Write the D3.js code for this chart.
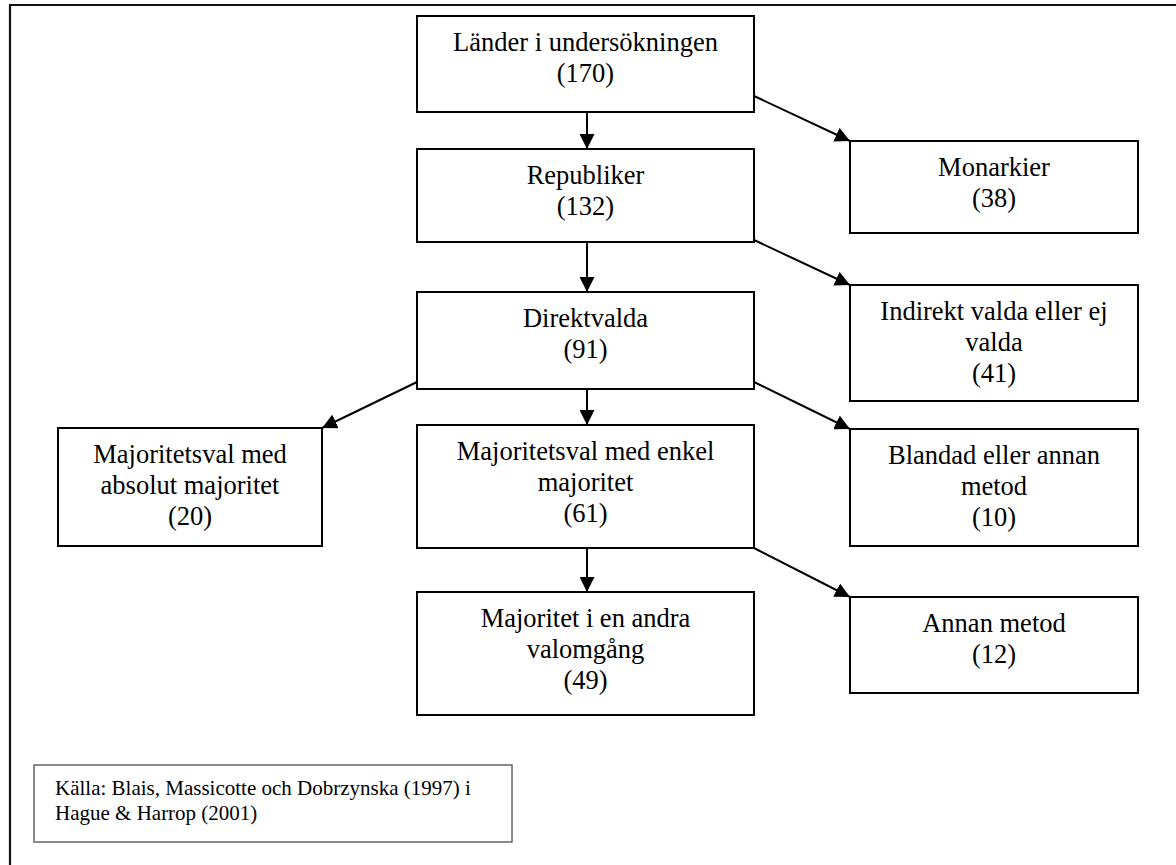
<!DOCTYPE html>
<html>
<head>
<meta charset="utf-8">
<script src="https://cdn.jsdelivr.net/npm/d3@7"></script>
<style>
  html, body { margin: 0; padding: 0; background: #fff; }
  svg { display: block; }
</style>
</head>
<body>
<script>
// ---------- DATA ----------
const nodeIds    = ["lander", "monarkier", "republiker", "indirekt", "direkt", "absolut", "enkel", "blandad", "andra", "annan"];
const nodeLabels = [
  ["Länder i undersökningen"],
  ["Monarkier"],
  ["Republiker"],
  ["Indirekt valda eller ej", "valda"],
  ["Direktvalda"],
  ["Majoritetsval med", "absolut majoritet"],
  ["Majoritetsval med enkel", "majoritet"],
  ["Blandad eller annan", "metod"],
  ["Majoritet i en andra", "valomgång"],
  ["Annan metod"]
];
const nodeCounts = [170, 38, 132, 41, 91, 20, 61, 10, 49, 12];
const edgeFrom   = ["lander", "lander", "republiker", "republiker", "direkt", "direkt", "direkt", "enkel", "enkel"];
const edgeTo     = ["republiker", "monarkier", "direkt", "indirekt", "absolut", "enkel", "blandad", "andra", "annan"];
const sourceLines = ["Källa: Blais, Massicotte och Dobrzynska (1997) i", "Hague & Harrop (2001)"];

// ---------- LAYOUT (positions & sizes, kept separate from data) ----------
const W = 1176, H = 865;
const FONT = "'Liberation Serif', 'Times New Roman', Times, 'DejaVu Serif', serif";
const colX = d3.scaleOrdinal().domain(["left", "center", "right"]).range([58, 417, 850]);
const colW = d3.scaleOrdinal().domain(["left", "center", "right"]).range([264, 337, 288]);
const nodeLayout = {
  lander:     { col: "center", top: 16,  bottom: 112 },
  monarkier:  { col: "right",  top: 141, bottom: 233 },
  republiker: { col: "center", top: 149, bottom: 242 },
  indirekt:   { col: "right",  top: 285, bottom: 401 },
  direkt:     { col: "center", top: 292, bottom: 389 },
  absolut:    { col: "left",   top: 428, bottom: 546 },
  enkel:      { col: "center", top: 425, bottom: 548 },
  blandad:    { col: "right",  top: 429, bottom: 546 },
  andra:      { col: "center", top: 592, bottom: 715 },
  annan:      { col: "right",  top: 597, bottom: 693 }
};
const edgeStartLift = { lander: 16, republiker: 2, direkt: 7, enkel: 0 };
const fontSize = 26.5, firstBase = 35, lineGap = 31;

const nodes = nodeIds.map((id, i) => {
  const L = nodeLayout[id];
  const x = colX(L.col), w = colW(L.col);
  return { id, lines: nodeLabels[i].concat(["(" + nodeCounts[i] + ")"]),
           x, y: L.top, w, h: L.bottom - L.top, cx: x + w / 2 + 1.5 };
});
const byId = new Map(nodes.map(n => [n.id, n]));

const svg = d3.select("body").append("svg").attr("width", W).attr("height", H);

svg.append("defs").append("marker")
  .attr("id", "arrow")
  .attr("viewBox", "0 0 15 15")
  .attr("refX", 15).attr("refY", 7.5)
  .attr("markerWidth", 15).attr("markerHeight", 15)
  .attr("markerUnits", "userSpaceOnUse")
  .attr("orient", "auto")
  .append("path").attr("d", "M0,0 L15,7.5 L0,15 Z").attr("fill", "#000");

// outer frame
svg.append("path")
  .attr("d", `M10,${H + 5} L10,5 L${W + 5},5`)
  .attr("fill", "none").attr("stroke", "#111").attr("stroke-width", 2.2);

// edges
const edges = edgeFrom.map((f, i) => {
  const s = byId.get(f), t = byId.get(edgeTo[i]);
  if (s.x === t.x) return { x1: s.cx, y1: s.y + s.h, x2: s.cx, y2: t.y };
  const goRight = t.x > s.x;
  return {
    x1: goRight ? s.x + s.w : s.x,
    y1: s.y + s.h - edgeStartLift[f],
    x2: goRight ? t.x : t.x + t.w,
    y2: t.y
  };
});

svg.append("g").selectAll("line").data(edges).join("line")
  .attr("x1", d => d.x1).attr("y1", d => d.y1)
  .attr("x2", d => d.x2).attr("y2", d => d.y2)
  .attr("stroke", "#000").attr("stroke-width", 2)
  .attr("marker-end", "url(#arrow)");

// boxes
const g = svg.append("g").selectAll("g").data(nodes).join("g");
g.append("rect")
  .attr("x", d => d.x).attr("y", d => d.y)
  .attr("width", d => d.w).attr("height", d => d.h)
  .attr("fill", "#fff").attr("stroke", "#000").attr("stroke-width", 2);
g.each(function(d) {
  const t = d3.select(this).append("text")
    .attr("text-anchor", "middle")
    .attr("font-family", FONT)
    .attr("font-size", fontSize)
    .attr("fill", "#000");
  d.lines.forEach((ln, i) => {
    t.append("tspan").attr("x", d.x + d.w / 2).attr("y", d.y + firstBase + i * lineGap).text(ln);
  });
});

// source box
const src = svg.append("g");
src.append("rect").attr("x", 34).attr("y", 765).attr("width", 478).attr("height", 77)
  .attr("fill", "#fff").attr("stroke", "#666").attr("stroke-width", 1.5);
const st = src.append("text").attr("font-family", FONT).attr("font-size", 21).attr("fill", "#000");
sourceLines.forEach((ln, i) => {
  st.append("tspan").attr("x", 55).attr("y", 795 + i * 25).text(ln);
});
</script>
</body>
</html>
